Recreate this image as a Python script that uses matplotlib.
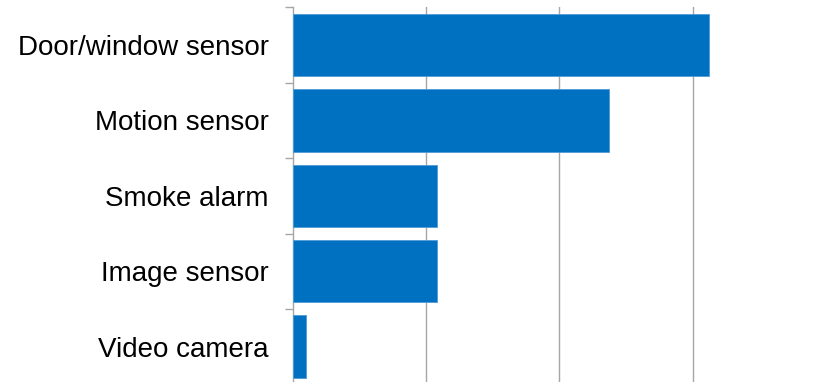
import matplotlib
matplotlib.use("Agg")
import matplotlib.pyplot as plt
import numpy as np

categories = ["Door/window sensor", "Motion sensor", "Smoke alarm", "Image sensor", "Video camera"]
values = [31.2, 23.7, 10.8, 10.8, 1.0]
grid_ticks = [10, 20, 30, 40]

W, H = 817, 382
fig = plt.figure(figsize=(W / 100, H / 100), dpi=100)
px = 13.32  # pixels per unit
left, top, bottom = 293, 7.3, 384.3
ax = fig.add_axes([left / W, 1 - bottom / H, 40 * px / W, (bottom - top) / H])

y = np.arange(len(categories))
ax.barh(y, values, height=0.83, color="#0070C0", edgecolor="#4F9BD9", linewidth=0.6, zorder=3)
ax.set_xlim(0, 40)
ax.set_ylim(len(categories) - 0.5, -0.5)

for g in grid_ticks:
    ax.axvline(g, color="#A6A6A6", lw=1.0, zorder=1)

ax.set_xticks([])
ax.set_yticks(np.arange(-0.5, len(categories), 1.0))
ax.set_yticklabels([])
ax.set_yticks(y, minor=True)
ax.set_yticklabels(categories, minor=True, fontsize=20.0, family=["Liberation Sans", "DejaVu Sans"])
ax.tick_params(axis="y", which="major", length=6, width=1.0, color="#A6A6A6", direction="out")
ax.tick_params(axis="y", which="minor", length=0, pad=17.5)

for s in ["top", "right", "bottom"]:
    ax.spines[s].set_visible(False)
ax.spines["left"].set_color("#A6A6A6")
ax.spines["left"].set_linewidth(1.0)

fig.savefig("out.png", dpi=100)
